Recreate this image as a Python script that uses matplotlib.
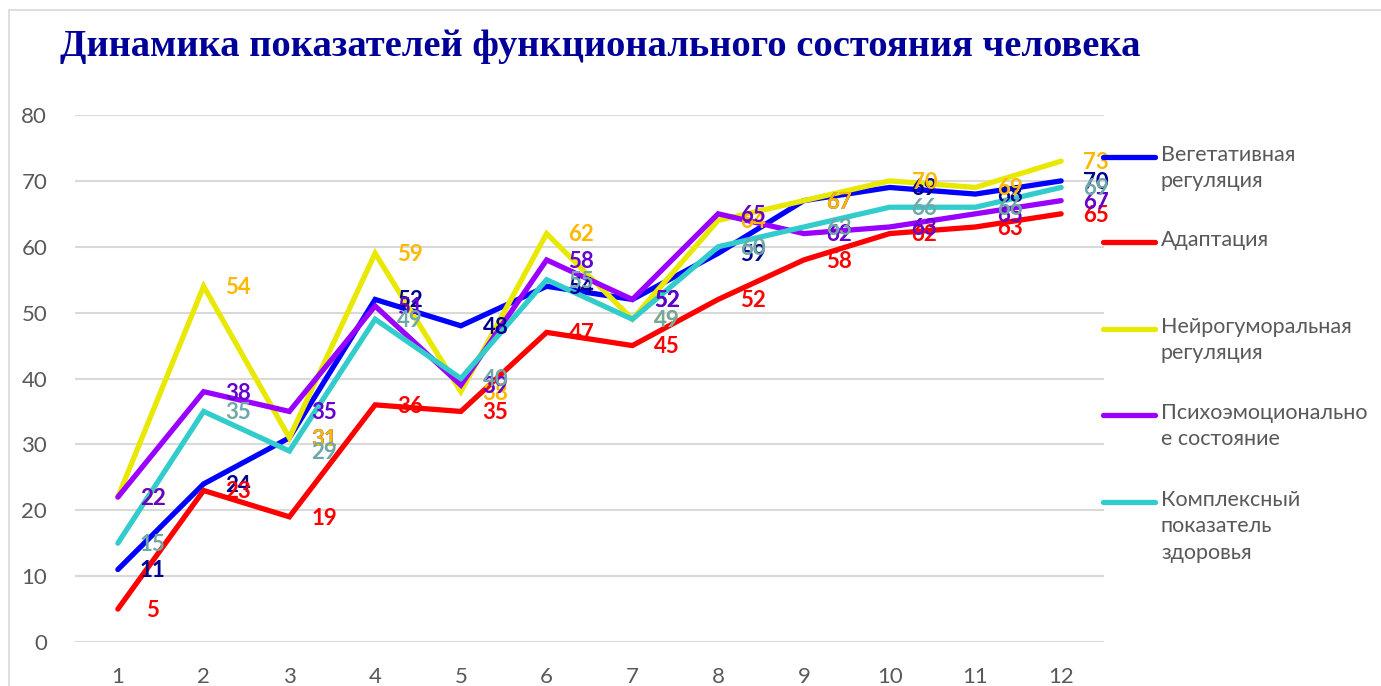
import matplotlib.pyplot as plt
from matplotlib.patches import Rectangle
from matplotlib.lines import Line2D

# data
x = [1, 2, 3, 4, 5, 6, 7, 8, 9, 10, 11, 12]
vegetative = [11, 24, 31, 52, 48, 54, 52, 59, 67, 69, 68, 70]
adaptation = [5, 23, 19, 36, 35, 47, 45, 52, 58, 62, 63, 65]
neurohumoral = [22, 54, 31, 59, 38, 62, 49, 64, 67, 70, 69, 73]
psychoemotional = [22, 38, 35, 51, 39, 58, 52, 65, 62, 63, 65, 67]
complex_health = [15, 35, 29, 49, 40, 55, 49, 60, 63, 66, 66, 69]

names = ["Вегетативная\nрегуляция", "Адаптация", "Нейрогуморальная\nрегуляция",
         "Психоэмоционально\nе состояние", "Комплексный\nпоказатель\nздоровья"]
series = [vegetative, adaptation, neurohumoral, psychoemotional, complex_health]
line_colors = ["#0000FF", "#FF0000", "#E8E800", "#9900FF", "#33CCCC"]
label_colors = ["#000090", "#FF0000", "#FFB800", "#6600CC", "#6FA8A8"]

title = "Динамика показателей функционального состояния человека"

plt.rcParams['font.family'] = ['Lato', 'DejaVu Sans']

fig = plt.figure(figsize=(13.81, 6.86), dpi=100)
ax = fig.add_axes([75/1381, 44/686, (1104-75)/1381, (642-115)/686])

for vals, c in zip(series, line_colors):
    ax.plot(x, vals, color=c, lw=3.8, solid_capstyle='round', solid_joinstyle='miter', zorder=3)

for vals, c in zip(series, label_colors):
    for xi, v in zip(x, vals):
        ax.annotate(str(v), (xi, v), xytext=(25, -1), textcoords='offset points',
                    ha='center', va='center', fontsize=16, fontweight='bold',
                    color=c, zorder=5)

ax.set_xlim(0.5, 12.5)
ax.set_ylim(0, 80)
ax.set_yticks(range(0, 81, 10))
ax.set_xticks(x)
ax.grid(axis='y', color='#D9D9D9', lw=1.5)
ax.set_axisbelow(True)
for s in ax.spines.values():
    s.set_visible(False)
ax.tick_params(length=0, labelsize=16, colors='#595959')
ax.tick_params(axis='y', pad=20)
ax.tick_params(axis='x', pad=18)

fig.text(60/1381, 1 - 47/686, title, family='Liberation Serif', fontweight='bold',
         fontsize=27.7, color='#000099', va='center', ha='left')

# chart border
fig.patches.append(Rectangle((9/1381, -0.1), 1.2, 1 - 10/686 + 0.1, transform=fig.transFigure,
                             fill=False, edgecolor='#D9D9D9', lw=1.2))

# legend
leg_top = [157, 242, 329, 415, 502]
for name, c, yt in zip(names, line_colors, leg_top):
    yf = 1 - yt/686
    fig.add_artist(Line2D([1103/1381, 1155/1381], [yf, yf], transform=fig.transFigure,
                          color=c, lw=3.8, solid_capstyle='round'))
    fig.text(1161/1381, yf + 12/686, name, fontsize=15.5, color='#595959', va='top', ha='left',
             linespacing=1.4)

fig.savefig("out.png", dpi=100)
